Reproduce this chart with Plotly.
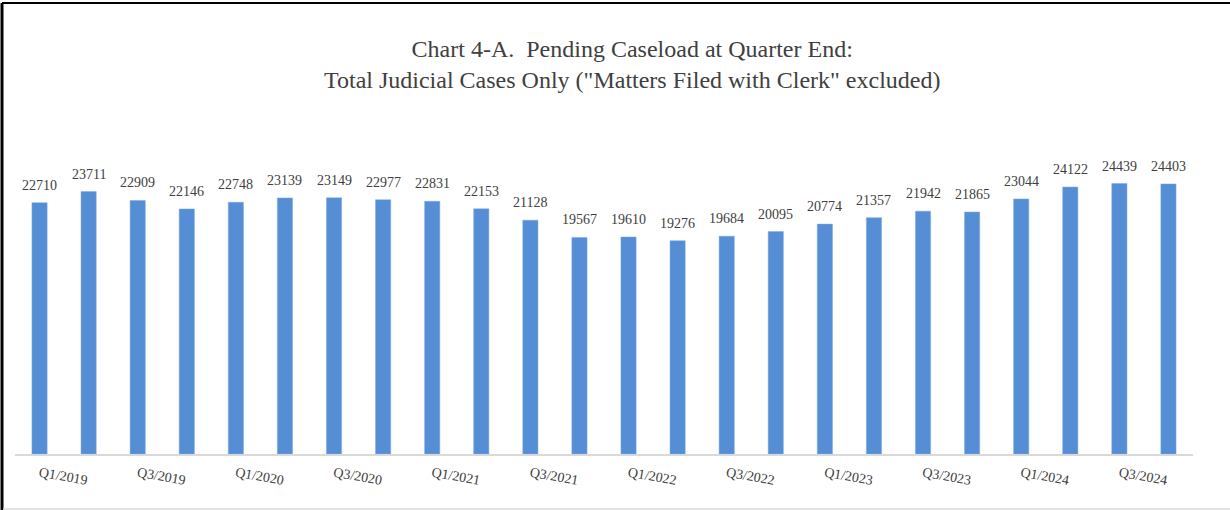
import plotly.graph_objects as go

quarters = [f"Q{q}/{y}" for y in range(2019, 2025) for q in range(1, 5)]
values = [22710, 23711, 22909, 22146, 22748, 23139, 23149, 22977,
          22831, 22153, 21128, 19567, 19610, 19276, 19684, 20095,
          20774, 21357, 21942, 21865, 23044, 24122, 24439, 24403]
tick_labels = quarters[::2]

W, H = 1230, 510
L, R, T, B = 15, 37, 122, 56
pw, ph = W - L - R, H - T - B

def px(x):
    return (x - L) / pw

def py(y):
    return (H - B - y) / ph

fig = go.Figure(go.Bar(
    x=quarters, y=values,
    marker=dict(color="#558ED5", line=dict(color="#7FAAE0", width=0.5)),
    hoverinfo="x+y",
))

for q, v in zip(quarters, values):
    fig.add_annotation(
        x=q, y=v, text=str(v), showarrow=False, xanchor="center", yanchor="bottom",
        yshift=8, font=dict(family="Liberation Serif", size=14, color="#404040"),
    )

fig.update_layout(
    width=W, height=H,
    margin=dict(l=L, r=R, t=T, b=B),
    paper_bgcolor="white", plot_bgcolor="white",
    bargap=0.69,
    showlegend=False,
    title=dict(
        text='Chart 4-A.  Pending Caseload at Quarter End:<br>Total Judicial Cases Only ("Matters Filed with Clerk" excluded)',
        x=0.514, xanchor="center", y=1 - 57 / H, yanchor="middle",
        font=dict(family="Liberation Serif", size=24, color="#404040"),
    ),
    xaxis=dict(
        type="category", tickmode="array", tickvals=tick_labels, ticktext=tick_labels,
        tickangle=10, showgrid=False, showline=True, linecolor="#D9D9D9", linewidth=1.5,
        ticks="", tickfont=dict(family="Liberation Serif", size=14, color="#404040"),
        ticklabelstandoff=4,
    ),
    yaxis=dict(range=[0, 30000], visible=False, showgrid=False),
    shapes=[
        dict(type="line", xref="paper", yref="paper", x0=px(2), x1=px(1230), y0=py(3), y1=py(3),
             line=dict(color="black", width=2)),
        dict(type="line", xref="paper", yref="paper", x0=px(2), x1=px(2), y0=py(3), y1=py(510),
             line=dict(color="black", width=3)),
        dict(type="line", xref="paper", yref="paper", x0=px(3), x1=px(1230), y0=py(509), y1=py(509),
             line=dict(color="#D9D9D9", width=1.5)),
    ],
)

fig.write_html(
    "out.html",
    config={"displayModeBar": False},
    post_script="document.body.style.margin='0';document.body.style.overflow='hidden';",
)
